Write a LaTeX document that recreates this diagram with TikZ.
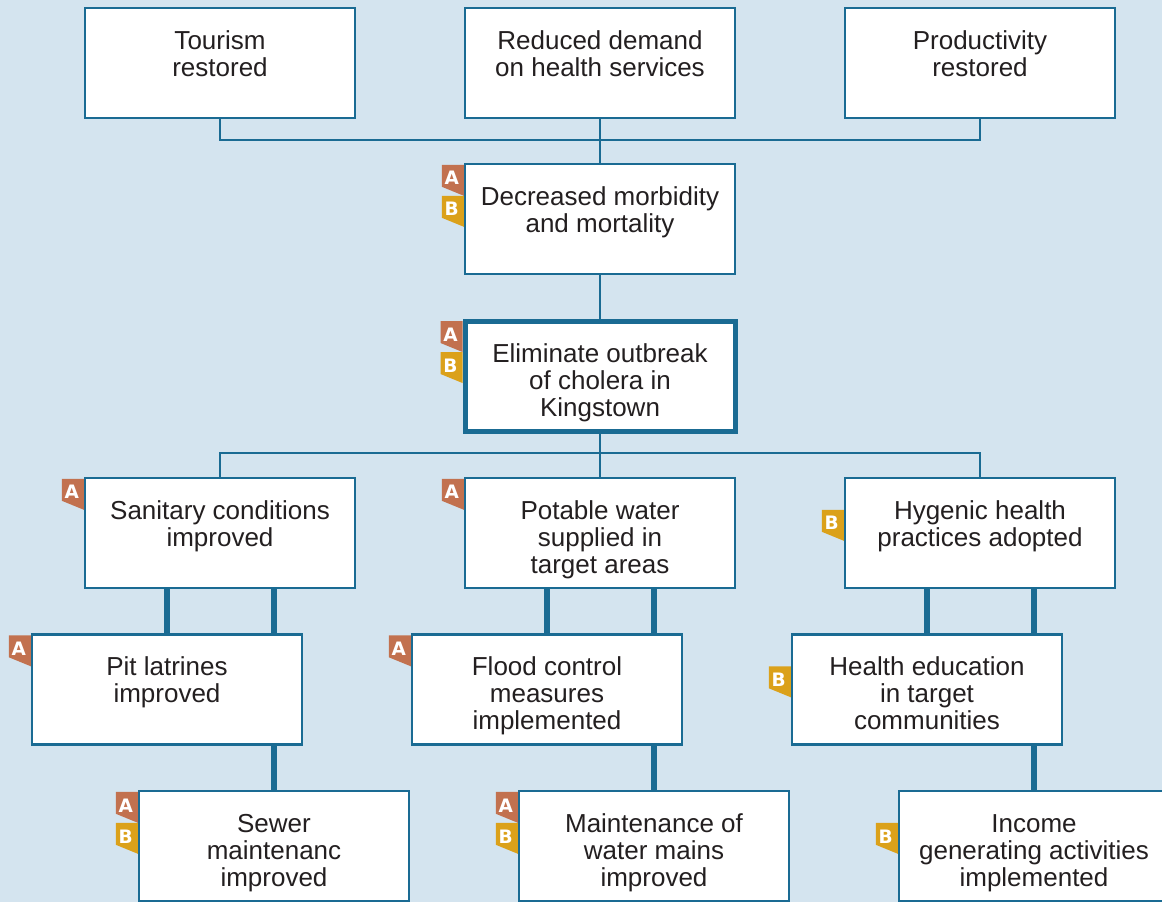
\documentclass[tikz,border=0pt]{standalone}
\usepackage{fontspec}
\setmainfont{Liberation Sans}
\newfontfamily\tagfont{DejaVu Sans}
\definecolor{bgblue}{HTML}{D4E4EF}
\definecolor{lineblue}{HTML}{1A6B93}
\definecolor{flagA}{HTML}{C2714F}
\definecolor{flagB}{HTML}{DBA11A}
\definecolor{inkgray}{HTML}{231F20}
\pgfdeclarelayer{bg}
\pgfdeclarelayer{wires}
\pgfsetlayers{bg,wires,main}
\newcommand\boxtext[1]{\parbox[c][110pt][t]{256pt}{\centering\rule{0pt}{41pt}#1}}
% tag left of a box: node, slot (0 top, 1 below), letter
\newcommand\flag[3]{%
  \begin{pgfonlayer}{wires}
  \begin{scope}[shift={(#1.north west)}]
    \fill[flag#3] (-22,2+31*#2) -- (0,2+31*#2) -- (0,33+31*#2) -- (-22,24+31*#2) -- cycle;
    \node[flagtext] (#1-#3) at (-12,15.5+31*#2) {#3};
  \end{scope}
  \end{pgfonlayer}}
\tikzset{
  box/.style={draw=lineblue, line width=2.5pt, fill=white, inner sep=0pt,
    minimum width=270pt, minimum height=110pt, text=inkgray,
    font=\fontsize{26}{27}\selectfont},
  goalbox/.style={box, line width=5pt},
  thinwire/.style={draw=lineblue, line width=2.5pt},
  thickwire/.style={draw=lineblue, line width=5.5pt},
  flagtext/.style={text=white, inner sep=0pt, font=\tagfont\fontsize{18.5}{18.5}\selectfont\bfseries}
}
\begin{document}
\begin{tikzpicture}[x=1pt,y=-1pt]
\useasboundingbox (0,0) rectangle (1162,902);
\begin{pgfonlayer}{bg}
  \fill[bgblue] (0,0) rectangle (1162,902);
\end{pgfonlayer}
% impacts
\node[box] (tour) at (220,63) {\boxtext{Tourism\\restored}};
\node[box] (red) at (600,63) {\boxtext{Reduced demand\\on health services}};
\node[box] (prod) at (980,63) {\boxtext{Productivity\\restored}};
\node[box] (dec) at (600,219) {\boxtext{Decreased morbidity\\and mortality}};
% purpose
\node[goalbox] (elim) at (600,376.5) {\boxtext{Eliminate outbreak\\of cholera in\\Kingstown}};
% outputs
\node[box] (sani) at (220,533) {\boxtext{Sanitary conditions\\improved}};
\node[box] (pot) at (600,533) {\boxtext{Potable water\\supplied in\\target areas}};
\node[box] (hyg) at (980,533) {\boxtext{Hygenic health\\practices adopted}};
% activities
\node[box] (pit) at (167,689.5) {\boxtext{Pit latrines\\improved}};
\node[box] (flood) at (547,689.5) {\boxtext{Flood control\\measures\\implemented}};
\node[box] (health) at (927,689.5) {\boxtext{Health education\\in target\\communities}};
\node[box] (sewer) at (274,846) {\boxtext{Sewer\\maintenanc\\improved}};
\node[box] (maint) at (654,846) {\boxtext{Maintenance of\\water mains\\improved}};
\node[box] (income) at (1034,846) {\boxtext{Income\\generating activities\\implemented}};
% connectors
\begin{pgfonlayer}{wires}
  \coordinate (topbar) at (600,140);
  \coordinate (midbar) at (600,453);
  \draw[thinwire] (tour.south) |- (topbar) -| (prod.south);
  \draw[thinwire] (red.south) -- (dec.north);
  \draw[thinwire] (dec.south) -- (elim.north);
  \draw[thinwire] (sani.north) |- (midbar) -| (hyg.north);
  \draw[thinwire] (elim.south) -- (pot.north);
  \draw[thickwire] (pit.north) -- (pit.north |- sani.south);
  \draw[thickwire] (sewer.north) -- (sewer.north |- sani.south);
  \draw[thickwire] (flood.north) -- (flood.north |- pot.south);
  \draw[thickwire] (maint.north) -- (maint.north |- pot.south);
  \draw[thickwire] (health.north) -- (health.north |- hyg.south);
  \draw[thickwire] (income.north) -- (income.north |- hyg.south);
\end{pgfonlayer}
% tags
\flag{dec}{0}{A}\flag{dec}{1}{B}
\flag{elim}{0}{A}\flag{elim}{1}{B}
\flag{sani}{0}{A}
\flag{pot}{0}{A}
\flag{hyg}{1}{B}
\flag{pit}{0}{A}
\flag{flood}{0}{A}
\flag{health}{1}{B}
\flag{sewer}{0}{A}\flag{sewer}{1}{B}
\flag{maint}{0}{A}\flag{maint}{1}{B}
\flag{income}{1}{B}
\end{tikzpicture}
\end{document}
